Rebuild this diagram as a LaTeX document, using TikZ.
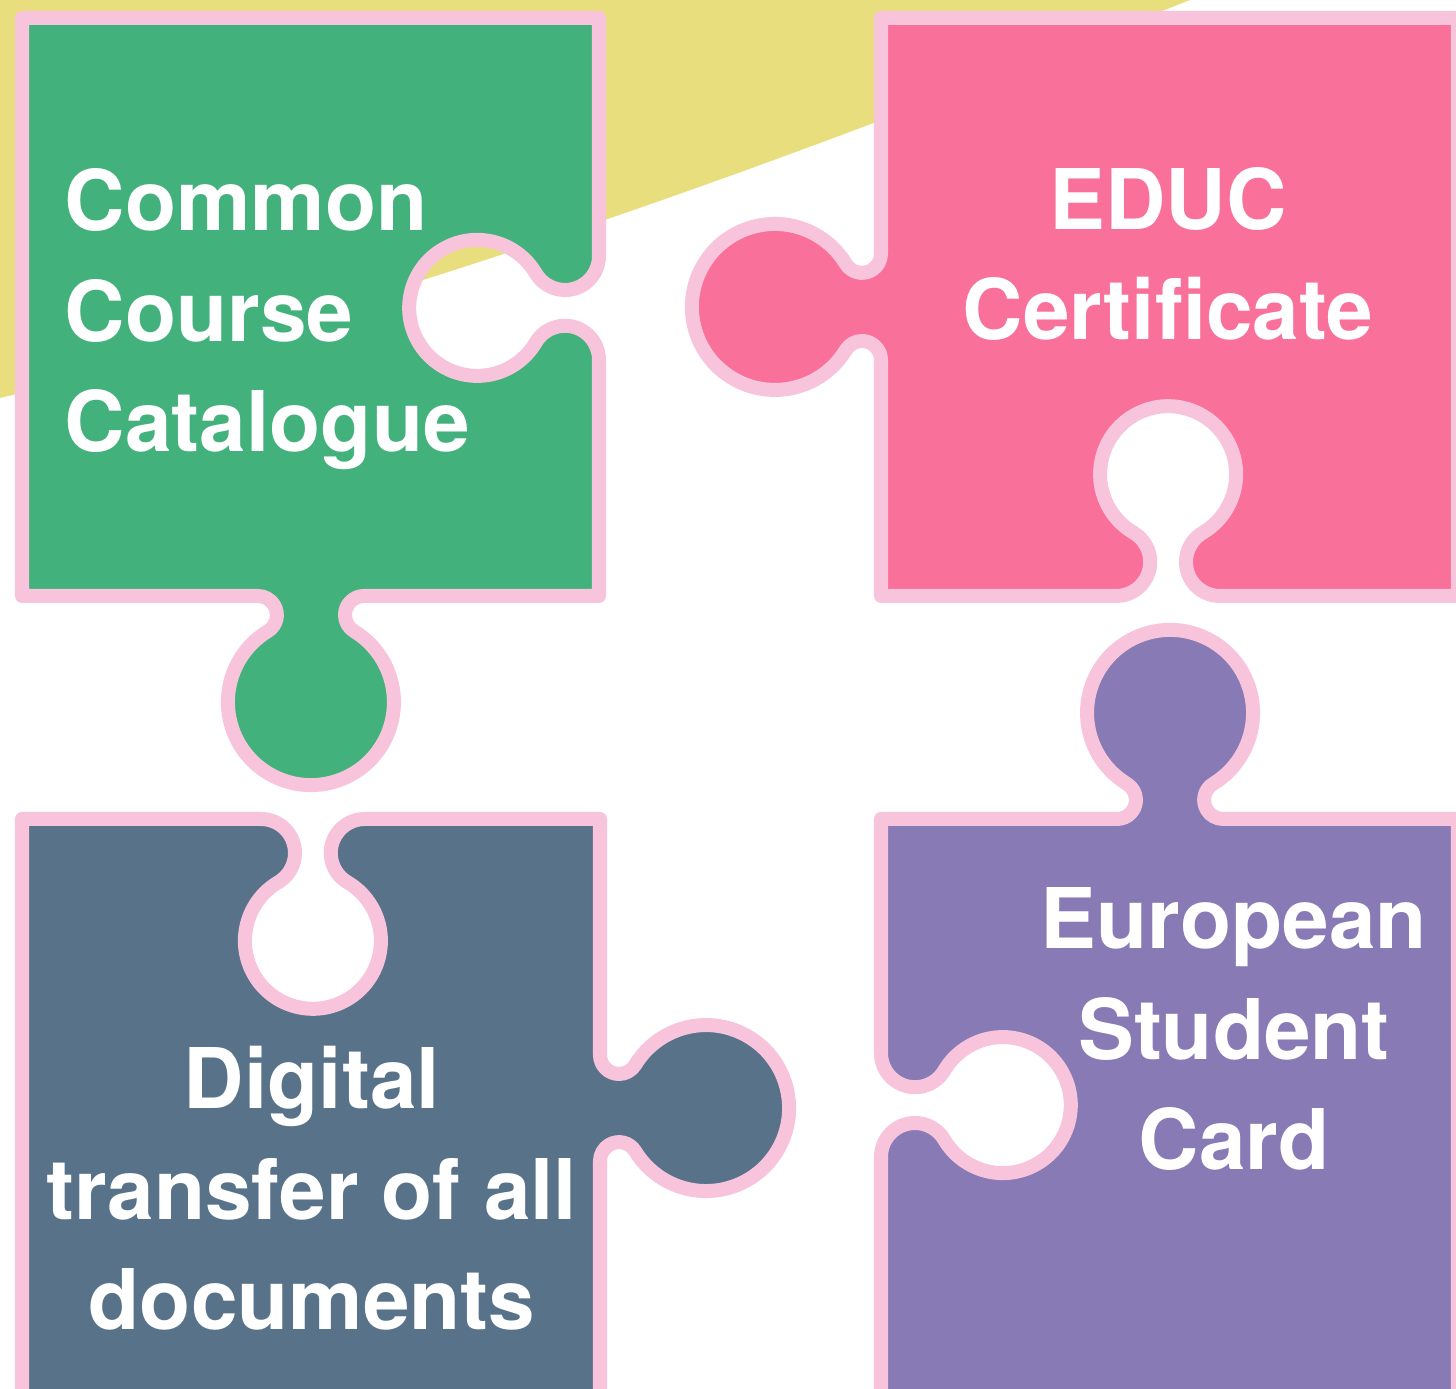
\documentclass[tikz,border=0pt]{standalone}
\usepackage{fontspec}
\setmainfont{TeX Gyre Heros}
\usepackage{tikz}
\usetikzlibrary{calc}
\definecolor{sun}{HTML}{E8DE7D}
\definecolor{leaf}{HTML}{42B17B}
\definecolor{rose}{HTML}{F9709A}
\definecolor{slate}{HTML}{587389}
\definecolor{lilac}{HTML}{877AB5}
\definecolor{rim}{HTML}{F8C4DC}
\tikzset{
  piece/.style={draw=rim, line width=0.14cm, line join=round},
  lab/.style={text=white, font=\fontsize{23.8}{31.5}\selectfont\bfseries, inner sep=0pt},
}
% knob at edge point #1, edge heading #2 (tab sticks out, hole cuts in)
\newcommand\knobout[2]{-- ($(#1)+({#2+180}:53)$)
  arc[start angle={#2+90}, end angle={#2-58.65}, radius=19]
  arc[start angle={#2-238.65}, end angle={#2+58.65}, radius=83]
  arc[start angle={#2-121.35}, end angle={#2-270}, radius=19]}
\newcommand\knobin[2]{-- ($(#1)+({#2+180}:52)$)
  arc[start angle={#2-90}, end angle={#2+59.42}, radius=34]
  arc[start angle={#2+239.42}, end angle={#2-59.42}, radius=68]
  arc[start angle={#2+120.58}, end angle={#2+270}, radius=34]}

\begin{document}
\begin{tikzpicture}[x=0.01cm, y=0.01cm, yscale=-1]
  \useasboundingbox (0,0) rectangle (1456,1389);
  \clip (0,0) rectangle (1456,1389);
  \fill[white] (0,0) rectangle (1456,1389);

  % yellow backdrop
  \fill[sun] (0,0) -- (1190,0) .. controls (850,135) and (450,290) .. (0,398) -- cycle;

  % pieces
  \path[piece, fill=leaf] (22,18) -- (599,18) \knobin{599,308}{90}
    -- (599,596) \knobout{311,596}{180} -- (22,596) -- cycle;
  \path[piece, fill=rose] (881,18) -- (1458,18) -- (1458,596)
    \knobin{1168,596}{180} -- (881,596) \knobout{881,307}{270} -- cycle;
  \path[piece, fill=slate] (22,819) \knobin{313,819}{0} -- (600,819)
    \knobout{600,1108}{90} -- (600,1400) -- (22,1400) -- cycle;
  \path[piece, fill=lilac] (881,819) \knobout{1170,819}{0} -- (1458,819)
    -- (1458,1400) -- (881,1400) \knobin{881,1105}{270} -- cycle;

  % labels (base = last line)
  \node[lab, anchor=base west, align=left] (course) at (64,452) {Common\\Course\\Catalogue};
  \node[lab, anchor=base, align=center] (certif) at (1168,340) {EDUC\\Certificate};
  \node[lab, anchor=base, align=center] (transfer) at (312,1330) {Digital\\transfer of all\\documents};
  \node[lab, anchor=base, align=center] (card) at (1234,1170) {European\\Student\\Card};
\end{tikzpicture}
\end{document}
